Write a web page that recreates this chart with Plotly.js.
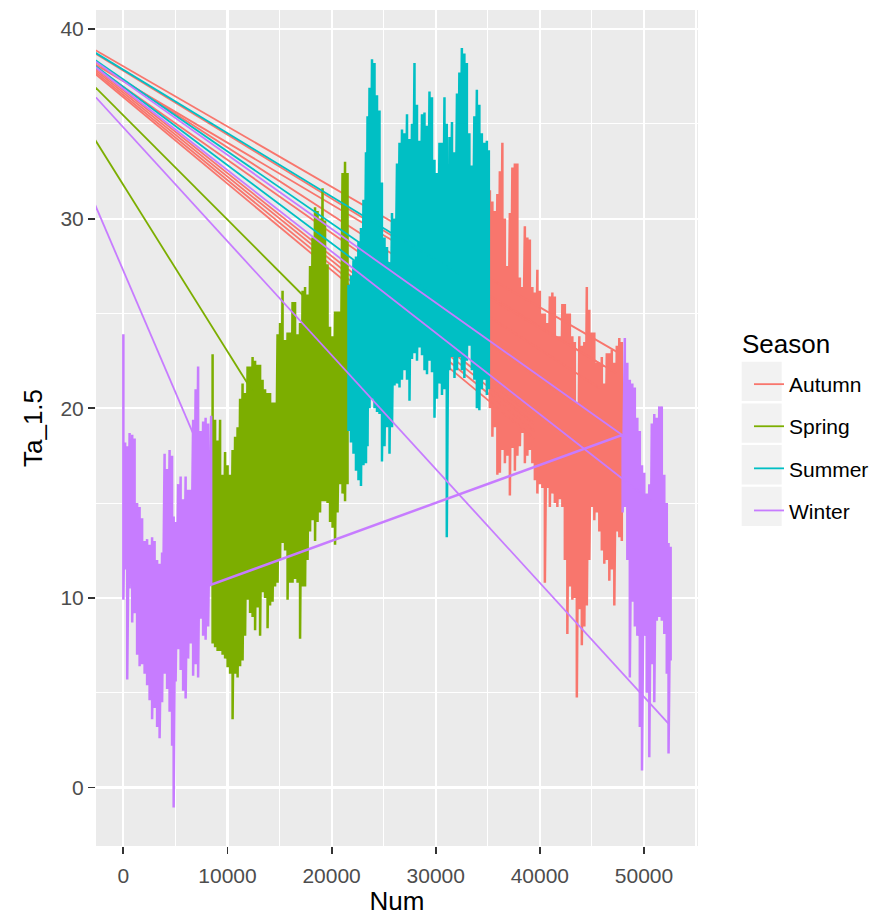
<!DOCTYPE html>
<html>
<head>
<meta charset="utf-8">
<script src="https://cdn.plot.ly/plotly-3.0.1.min.js"></script>
<style>
html,body{margin:0;padding:0;background:#fff;width:879px;height:916px;overflow:hidden}
#chart{width:879px;height:916px;overflow:hidden}
</style>
</head>
<body>
<div id="chart"></div>
<script>
// ---------- data ----------
const seasons = ['Autumn', 'Spring', 'Summer', 'Winter'];

// envelope of the dense series: for each sampled Num, highest and lowest Ta_1.5
const winterANum = [0,170,370,600,850,1080,1320,1560,1800,2040,2280,2520,2760,3000,3240,3480,3720,3960,4200,4440,4680,4830,5020,5260,5500,5740,5980,6220,6460,6700,6940,7180,7420,7660,7900,8140,8430];
const winterAHi  = [23.9,18.2,18.0,18.7,18.6,18.4,15.0,14.8,14.2,13.0,13.1,12.8,13.2,13.0,12.0,11.8,12.4,17.6,16.8,17.8,17.5,14.3,14.0,16.0,16.4,15.2,16.4,15.7,15.7,19.4,21.0,22.2,18.8,19.3,19.5,19.2,19.6];
const winterALo  = [9.9,11.5,5.7,10.5,8.7,9.2,7.0,6.4,6.5,6.0,5.4,4.6,3.6,4.2,3.2,2.6,4.5,6.0,5.2,4.0,2.2,-1.05,5.6,7.3,6.2,5.1,4.7,6.8,7.6,5.9,6.5,5.8,8.9,8.0,7.8,8.5,10.7];

const springNum = [8570,8810,9050,9290,9530,9770,10010,10250,10490,10730,10970,11210,11450,11690,11930,12170,12410,12650,12890,13130,13370,13610,13850,14090,14330,14570,14810,15050,15290,15530,15770,16010,16250,16490,16730,16970,17210,17450,17690,17930,18170,18410,18650,18890,19130,19370,19610,19850,20090,20330,20570,20810,21050,21290,21530];
const springHi  = [22.85,19.4,18.3,19.4,16.5,17.7,17.0,16.5,17.8,18.5,19.0,20.5,21.3,20.8,22.2,22.2,22.7,22.5,22.3,22.3,21.5,21.0,20.8,20.8,20.3,20.3,23.9,24.5,26.2,23.6,24.0,24.0,25.6,25.6,23.9,24.5,26.2,26.4,26.0,27.5,29.0,30.6,30.4,30.0,31.6,29.9,27.6,24.3,23.8,25.1,25.1,25.1,32.4,33.0,32.4];
const springLo  = [7.6,7.4,7.2,7.2,7.0,6.8,6.35,6.0,3.6,6.0,5.8,6.4,6.7,8.0,9.9,9.2,9.0,8.3,9.5,8.0,10.3,10.0,8.4,9.6,9.8,10.6,10.8,12.0,12.9,12.5,9.9,10.8,10.8,11.0,10.8,7.85,10.6,10.6,12.0,13.5,14.1,13.0,14.0,14.5,15.1,15.1,15.0,14.0,13.7,12.8,14.5,16.0,15.5,15.1,16.0];

const summerNum = [21620,21860,22100,22340,22580,22820,23060,23300,23450,23640,23880,24120,24360,24600,24840,25080,25320,25560,25800,26040,26280,26520,26760,27000,27240,27480,27720,27960,28200,28440,28680,28920,29160,29400,29640,29880,30120,30360,30600,30840,31060,31320,31560,31800,32040,32270,32510,32750,32990,33230,33470,33710,33950,34190,34430,34670,34910,35100];
const summerHi  = [26.5,27.0,27.8,28.0,28.8,29.5,31.0,33.5,35.4,36.9,38.4,38.2,36.5,35.7,31.9,29.0,28.5,27.7,30.3,30.0,32.9,34.0,34.7,34.5,35.5,34.2,35.0,38.2,36.0,34.1,35.5,35.6,34.9,36.7,36.4,33.1,32.4,34.0,34.0,36.4,35.0,34.3,35.1,33.5,36.6,37.7,39.0,38.7,38.2,34.5,32.8,35.4,36.8,36.0,34.5,34.0,34.1,33.6];
const summerLo  = [18.8,18.2,17.6,16.7,16.2,15.9,17.0,17.1,18.0,20.0,20.5,20.0,19.8,19.7,17.2,18.0,19.0,17.6,19.0,21.2,21.3,21.1,21.5,22.0,21.5,20.4,22.6,22.9,22.5,23.2,22.8,22.0,21.8,22.5,21.9,19.5,20.5,21.3,20.7,21.0,13.2,22.0,22.7,21.6,22.0,22.7,22.0,21.6,22.5,23.3,22.0,21.5,20.0,19.9,21.0,21.5,20.7,21.0];

const autumnNum = [35200,35440,35680,35920,36160,36400,36640,36880,37120,37360,37600,37840,38080,38320,38560,38800,39040,39280,39520,39760,40000,40240,40480,40720,40960,41200,41440,41680,41920,42160,42400,42640,42880,43120,43360,43550,43790,44030,44270,44510,44750,44990,45230,45470,45710,45950,46190,46430,46670,46910,47150,47390,47630,47870];
const autumnHi  = [31.5,30.9,30.4,31.3,32.5,34.0,30.0,27.5,30.3,32.7,32.9,32.9,26.9,26.4,29.6,29.0,28.9,26.4,26.1,27.3,26.2,25.0,25.0,24.5,25.9,26.1,25.9,23.8,23.8,25.5,25.5,25.0,25.0,23.8,23.5,20.3,23.8,23.3,23.5,26.4,25.2,24.0,24.0,22.4,22.4,22.7,21.3,22.9,22.9,23.1,22.4,23.3,23.7,23.5];
const autumnLo  = [20.0,18.5,19.0,16.5,16.6,17.8,17.1,17.5,15.4,17.9,16.7,17.5,18.0,18.7,17.1,17.5,17.8,17.1,16.2,15.5,16.0,15.8,10.8,15.8,14.8,15.5,15.0,14.8,15.2,14.8,12.0,8.1,10.6,9.9,10.0,4.75,9.4,7.5,8.5,9.6,12.0,14.8,14.1,14.5,13.5,12.5,11.8,12.0,10.9,11.5,9.6,13.5,13.2,13.0];

const winterBNum = [47950,48160,48400,48640,48880,49120,49360,49600,49810,50030,50270,50510,50750,50990,51230,51470,51710,51950,52190,52360,52560];
const winterBHi  = [18.6,23.7,22.4,21.5,21.3,21.1,19.5,18.8,17.0,16.6,15.5,16.0,19.2,19.7,19.5,20.1,20.1,16.5,15.0,12.9,12.7];
const winterBLo  = [14.5,14.8,12.0,5.8,9.8,8.5,8.0,3.2,0.9,8.0,5.0,1.6,6.5,4.5,8.8,9.0,8.8,8.1,6.0,1.8,6.7];

// points lying left of the shown Num range, joined to later points of the same season
const offRangeNum = -2700;
const autumnJumpStart = [38.89,38.71,38.26,38.13,37.99,37.94,37.84,37.73,37.63];
const autumnJumpNum   = [47438,46190,45710,47353,41900,39473,39473,39473,39473];
const autumnJumpEnd   = [22.96,22.22,21.07,21.85,20.80,19.52,19.17,18.79,18.40];
const springJumpStart = [36.93,34.14];
const springJumpNum   = [17236,12438];
const springJumpEnd   = [25.96,20.86];
const summerJumpStart = [38.75,38.36,38.06];
const summerJumpNum   = [32274,30355,28436];
const summerJumpEnd   = [27.06,25.82,25.22];
const winterJumpStart = [38.3,38.0,36.43,30.71];
const winterJumpNum   = [47946,50672,52332,6651];
const winterJumpEnd   = [18.58,15.11,3.39,18.73];

// ---------- build paths ----------
function envelopePath(num, hi, lo, out) {
  for (let i = 0; i < num.length; i++) {
    out.x.push(num[i], num[i]);
    out.y.push(hi[i], lo[i]);
  }
  return out;
}
function jumpPath(starts, nums, ends) {
  const out = {x: [], y: []};
  for (let k = 0; k < starts.length; k++) {
    if (k) { out.x.push(null); out.y.push(null); }
    out.x.push(offRangeNum, nums[k]);
    out.y.push(starts[k], ends[k]);
  }
  return out;
}

let winterEnv = envelopePath(winterANum, winterAHi, winterALo, {x:[],y:[]});
winterEnv = envelopePath(winterBNum, winterBHi, winterBLo, winterEnv);
const envPaths = [
  envelopePath(autumnNum, autumnHi, autumnLo, {x:[],y:[]}),
  envelopePath(springNum, springHi, springLo, {x:[],y:[]}),
  envelopePath(summerNum, summerHi, summerLo, {x:[],y:[]}),
  winterEnv
];
const jumpPaths = [
  jumpPath(autumnJumpStart, autumnJumpNum, autumnJumpEnd),
  jumpPath(springJumpStart, springJumpNum, springJumpEnd),
  jumpPath(summerJumpStart, summerJumpNum, summerJumpEnd),
  jumpPath(winterJumpStart, winterJumpNum, winterJumpEnd)
];
const colors = ['#F8766D', '#7CAE00', '#00BFC4', '#C77CFF'];

const traces = [];
seasons.forEach((s, i) => {
  traces.push({
    type: 'scatter', mode: 'lines', name: s, legendgroup: s, showlegend: false,
    x: envPaths[i].x, y: envPaths[i].y,
    line: {color: colors[i], width: 2.5}, hoverinfo: 'skip'
  });
  traces.push({
    type: 'scatter', mode: 'lines', name: s, legendgroup: s, showlegend: true,
    x: jumpPaths[i].x, y: jumpPaths[i].y, connectgaps: false,
    line: {color: colors[i], width: 1.8}, hoverinfo: 'skip'
  });
});

// ---------- layout ----------
const L = 96, R = 698, T = 10, B = 846;
function px2paperX(p) { return (p - L) / (R - L); }
function px2paperY(p) { return (B - p) / (B - T); }
const keyBoxes = [[361.7, 401], [403.4, 442.7], [445.1, 484.4], [486.8, 526.1]];
const shapes = keyBoxes.map(b => ({
  type: 'rect', xref: 'paper', yref: 'paper', layer: 'below',
  x0: px2paperX(741.7), x1: px2paperX(781.7), y0: px2paperY(b[1]), y1: px2paperY(b[0]),
  fillcolor: '#F2F2F2', line: {width: 0}
}));

const axisCommon = {
  ticks: 'outside', ticklen: 7, tickwidth: 1.8, tickcolor: '#333333',
  tickfont: {size: 21, color: '#4D4D4D'},
  showgrid: true, gridcolor: '#FFFFFF', gridwidth: 2.2,
  zeroline: false, showline: false, automargin: false
};

const layout = {
  width: 879, height: 916,
  margin: {l: L, r: 879 - R, t: T, b: 916 - B, pad: 0, autoexpand: false},
  paper_bgcolor: '#FFFFFF', plot_bgcolor: '#EBEBEB',
  font: {family: 'Liberation Sans, Arial, sans-serif', color: '#000000'},
  showlegend: true,
  xaxis: Object.assign({}, axisCommon, {
    range: [-2628, 55188], tick0: 0, dtick: 10000, tickformat: 'd', ticklabelstandoff: 4,
    minor: {tick0: 0, dtick: 5000, showgrid: true, gridcolor: '#FFFFFF', gridwidth: 1.1, ticks: ''},
    title: {text: 'Num', font: {size: 26, color: '#000000'}, standoff: 9}
  }),
  yaxis: Object.assign({}, axisCommon, {
    range: [-3.08, 41.0], tick0: 0, dtick: 10,
    minor: {tick0: 0, dtick: 5, showgrid: true, gridcolor: '#FFFFFF', gridwidth: 1.1, ticks: ''},
    title: {text: 'Ta_1.5', font: {size: 26, color: '#000000'}, standoff: 10}
  }),
  legend: {
    x: px2paperX(749), xanchor: 'left', y: px2paperY(364), yanchor: 'top',
    bgcolor: 'rgba(0,0,0,0)', borderwidth: 0,
    font: {size: 21, color: '#000000'},
    traceorder: 'grouped', tracegroupgap: 11.8, itemclick: false
  },
  annotations: [{
    text: 'Season', xref: 'paper', yref: 'paper', showarrow: false,
    x: px2paperX(739.5), xanchor: 'left', y: px2paperY(344), yanchor: 'middle',
    font: {size: 26, color: '#000000'}
  }],
  shapes: shapes
};

Plotly.newPlot('chart', traces, layout, {staticPlot: true, displayModeBar: false});
</script>
</body>
</html>
